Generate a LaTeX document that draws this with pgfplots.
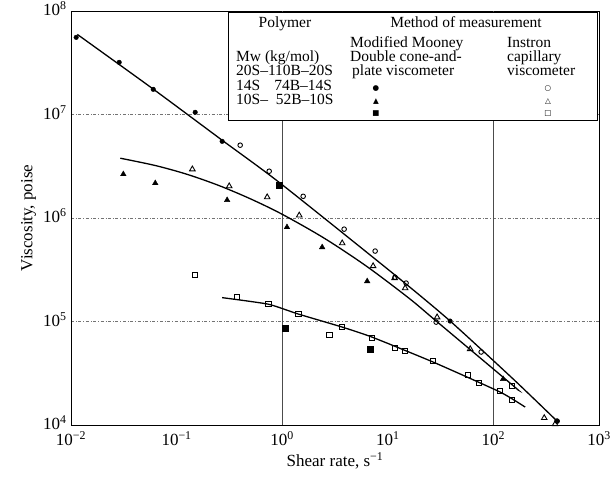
\documentclass[border=0pt]{standalone}
\usepackage{fontspec}
\setmainfont{Liberation Serif}
\newfontfamily\symfont{DejaVu Sans}
\usepackage{pgfplots}
\pgfplotsset{compat=1.18}

\begin{document}
\begin{tikzpicture}[x=1pt,y=1pt]
\path[use as bounding box] (0,0) rectangle (615,486);
\begin{axis}[
  at={(71pt,61pt)}, anchor=south west,
  scale only axis, width=528pt, height=414pt,
  xmode=log, ymode=log,
  xmin=0.01, xmax=1000, ymin=1e4, ymax=1e8,
  xtick={0.01,0.1,1,10,100,1000},
  xticklabels={10\textsuperscript{−2},10\textsuperscript{−1},10\textsuperscript{0},10\textsuperscript{1},10\textsuperscript{2},10\textsuperscript{3}},
  ytick={1e4,1e5,1e6,1e7,1e8},
  yticklabels={10\textsuperscript{4},10\textsuperscript{5},10\textsuperscript{6},10\textsuperscript{7},10\textsuperscript{8}},
  tick style={draw=none},
  tick label style={font=\fontsize{17}{18}\selectfont},
  xticklabel style={yshift=-3pt},
  yticklabel style={xshift=-1pt, yshift=2pt},
  label style={font=\fontsize{17}{19}\selectfont},
  xlabel={Shear rate, s\textsuperscript{−1}},
  ylabel={Viscosity, poise},
  ymajorgrids,
  y grid style={black!55, dash dot, line width=0.6pt},
  extra x ticks={1,100},
  extra x tick labels={},
  extra x tick style={grid=major, major grid style={black!70, solid, line width=0.6pt}},
  axis line style={line width=0.7pt},
  clip=false,
]
% fitted lines
\addplot[black, line width=1.3pt, smooth, tension=0.4] coordinates {
 (0.01148,5.94e7) (0.0587,1.79e7) (0.270,5.64e6) (0.957,2.17e6) (11.7,2.81e5) (38.1,1.03e5) (154,2.78e4) (401,1.09e4)};
\addplot[black, line width=1.3pt, smooth, tension=0.5] coordinates {
 (0.0293,3.78e6) (0.0631,3.21e6) (0.1259,2.64e6) (0.2512,2.06e6) (0.5012,1.53e6) (1.0,1.086e6) (2.512,6.36e5) (6.31,3.41e5) (15.85,1.68e5) (28.1,1.03e5) (144,2.54e4) (171,2.18e4)};
\addplot[black, line width=1.3pt, smooth, tension=0.3] coordinates {
 (0.270,1.70e5) (0.738,1.47e5) (1.42,1.18e5) (3.70,8.83e4) (7.11,7.06e4) (26.8,4.06e4) (116,2.08e4) (200,1.49e4)};
% filled circles
\addplot[only marks, mark=*, mark size=2.3pt, black] coordinates {
 (0.0112,5.56e7) (0.0286,3.19e7) (0.0601,1.75e7) (0.150,1.05e7) (0.270,5.5e6) (38.9,1.01e5) (401,1.09e4)};
% open circles
\addplot[only marks, mark=o, mark size=2.3pt, black, mark options={line width=0.9pt}] coordinates {
 (0.400,5.05e6) (0.753,2.83e6) (1.58,1.62e6) (3.86,7.8e5) (7.59,4.79e5) (11.7,2.68e5) (14.9,2.35e5) (28.7,9.86e4) (76.6,5.07e4) (401,1.09e4)};
% filled triangles
\addplot[only marks, mark=triangle*, mark size=3.2pt, black] coordinates {
 (0.0313,2.65e6) (0.0628,2.17e6) (0.301,1.49e6) (1.11,8.15e5) (2.39,5.22e5) (6.38,2.45e5) (123.6,2.78e4)};
% open triangles
\addplot[only marks, mark=triangle, mark size=3.2pt, black, mark options={line width=0.9pt}] coordinates {
 (0.141,2.96e6) (0.315,2.03e6) (0.721,1.59e6) (1.45,1.06e6) (3.70,5.71e5) (7.26,3.43e5) (11.6,2.63e5) (14.6,2.10e5) (29.3,1.10e5) (60.3,5.42e4) (303,1.17e4) (384,1.02e4)};
% filled squares
\addplot[only marks, mark=square*, mark size=2.7pt, black] coordinates {
 (0.938,2.07e6) (1.07,8.63e4) (6.81,5.42e4)};
% open squares
\addplot[only marks, mark=square, mark size=2.7pt, black, mark options={line width=0.9pt}] coordinates {
 (0.150,2.81e5) (0.375,1.72e5) (0.738,1.47e5) (1.42,1.18e5) (2.79,7.40e4) (3.70,8.83e4) (7.11,6.92e4) (11.7,5.53e4) (14.6,5.18e4) (26.8,4.15e4) (57.7,3.04e4) (73.3,2.54e4) (116,2.13e4) (150,2.38e4) (150,1.74e4)};
\end{axis}
% legend table
\draw[fill=white, line width=0.7pt] (228,474) rectangle (597,366);
\begin{scope}[every node/.style={inner sep=0pt, font=\fontsize{15.5}{16}\selectfont}]
\node[anchor=base] at (285,458) {Polymer};
\node[anchor=base] at (466,458) {Method of measurement};
\node[anchor=base west] at (350,438) {Modified Mooney};
\node[anchor=base west] at (507,438) {Instron};
\node[anchor=base west] at (236,424) {Mw (kg/mol)};
\node[anchor=base west] at (350,424) {Double cone-and-};
\node[anchor=base west] at (507,424) {capillary};
\node[anchor=base west] at (236,410) {20S–110B–20S};
\node[anchor=base west] at (352,410) {plate viscometer};
\node[anchor=base west] at (507,410) {viscometer};
\node[anchor=base west] at (236,395) {14S\hspace{0.9em}74B–14S};
\node[anchor=base west] at (236,381) {10S–\hspace{0.5em}52B–10S};
\end{scope}
\begin{scope}[every node/.style={inner sep=0pt, font=\symfont\fontsize{7.5}{8}\selectfont}]
\node at (376,397) {●};
\node at (376,384) {▲};
\node at (376,372) {■};
\node at (548,397) {○};
\node at (548,384) {△};
\node at (548,372) {□};
\end{scope}
\end{tikzpicture}
\end{document}
